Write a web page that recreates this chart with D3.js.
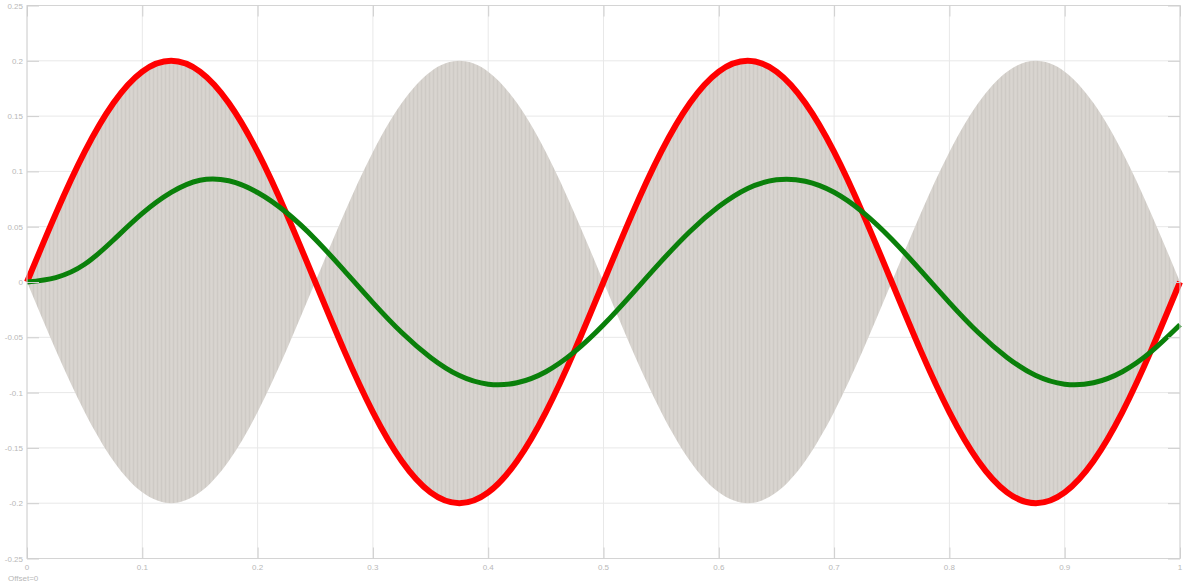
<!DOCTYPE html>
<html>
<head>
<meta charset="utf-8">
<script src="https://cdn.jsdelivr.net/npm/d3@7"></script>
<style>
  html, body { margin: 0; padding: 0; background: #ffffff; }
  svg { display: block; }
  text { font-family: "Liberation Sans", Arial, sans-serif; }
</style>
</head>
<body>
<svg id="chart" width="1183" height="583"></svg>
<script>
// Sample positions along the time axis
const xs = [0, 0.025, 0.05, 0.075, 0.1, 0.125, 0.15, 0.175, 0.2, 0.225,
            0.25, 0.275, 0.3, 0.325, 0.35, 0.375, 0.4, 0.425, 0.45, 0.475,
            0.5, 0.525, 0.55, 0.575, 0.6, 0.625, 0.65, 0.675, 0.7, 0.725,
            0.75, 0.775, 0.8, 0.825, 0.85, 0.875, 0.9, 0.925, 0.95, 0.975, 1];

// Input signal (red)
const inputSignal = [0, 0.0618, 0.1176, 0.1618, 0.1902, 0.2, 0.1902, 0.1618, 0.1176, 0.0618,
                     0, -0.0618, -0.1176, -0.1618, -0.1902, -0.2, -0.1902, -0.1618, -0.1176, -0.0618,
                     0, 0.0618, 0.1176, 0.1618, 0.1902, 0.2, 0.1902, 0.1618, 0.1176, 0.0618,
                     0, -0.0618, -0.1176, -0.1618, -0.1902, -0.2, -0.1902, -0.1618, -0.1176, -0.0618, 0];

// Filtered output (green)
const filteredSignal = [0, 0.004, 0.016, 0.038, 0.062, 0.081, 0.092, 0.0915, 0.0809, 0.0628,
                        0.0387, 0.0105, -0.0186, -0.0457, -0.0682, -0.0846, -0.0924, -0.0911, -0.0811, -0.0630,
                        -0.0387, -0.0105, 0.0186, 0.0457, 0.0682, 0.0846, 0.0924, 0.0911, 0.0811, 0.0630,
                        0.0387, 0.0105, -0.0186, -0.0457, -0.0682, -0.0846, -0.0924, -0.0911, -0.0811, -0.0630, -0.0387];

// Envelope of the modulated carrier (grey band)
const carrierEnvelope = [0, 0.0618, 0.1176, 0.1618, 0.1902, 0.2, 0.1902, 0.1618, 0.1176, 0.0618,
                         0, 0.0618, 0.1176, 0.1618, 0.1902, 0.2, 0.1902, 0.1618, 0.1176, 0.0618,
                         0, 0.0618, 0.1176, 0.1618, 0.1902, 0.2, 0.1902, 0.1618, 0.1176, 0.0618,
                         0, 0.0618, 0.1176, 0.1618, 0.1902, 0.2, 0.1902, 0.1618, 0.1176, 0.0618, 0];

const xTicks = [0, 0.1, 0.2, 0.3, 0.4, 0.5, 0.6, 0.7, 0.8, 0.9, 1];
const xTickLabels = ["0", "0.1", "0.2", "0.3", "0.4", "0.5", "0.6", "0.7", "0.8", "0.9", "1"];
const yTicks = [-0.25, -0.2, -0.15, -0.1, -0.05, 0, 0.05, 0.1, 0.15, 0.2, 0.25];
const yTickLabels = ["-0.25", "-0.2", "-0.15", "-0.1", "-0.05", "0", "0.05", "0.1", "0.15", "0.2", "0.25"];
const offsetLabel = "Offset=0";

const svg = d3.select("#chart");
const plotLeft = 27, plotRight = 1180, plotTop = 5.5, plotBottom = 558.5;

const x = d3.scaleLinear().domain([0, 1]).range([plotLeft, plotRight]);
const y = d3.scaleLinear().domain([-0.25, 0.25]).range([plotBottom, plotTop]);

// Fine vertical striping for the dense carrier band
const defs = svg.append("defs");
const pat = defs.append("pattern")
  .attr("id", "carrier")
  .attr("patternUnits", "userSpaceOnUse")
  .attr("width", 4).attr("height", 10);
pat.append("rect").attr("width", 4).attr("height", 10).attr("fill", "#d6d2cd");
pat.append("rect").attr("x", 1).attr("width", 1).attr("height", 10).attr("fill", "#cecac5");
pat.append("rect").attr("x", 3).attr("width", 0.6).attr("height", 10).attr("fill", "#dbd7d2");

// Grid
const grid = svg.append("g");
grid.selectAll("line.vx").data(xTicks).join("line")
  .attr("x1", d => x(d)).attr("x2", d => x(d))
  .attr("y1", plotTop).attr("y2", plotBottom)
  .attr("stroke", "#e8e8e8").attr("stroke-width", 1);
grid.selectAll("line.hy").data(yTicks).join("line")
  .attr("x1", plotLeft).attr("x2", plotRight)
  .attr("y1", d => y(d)).attr("y2", d => y(d))
  .attr("stroke", "#e8e8e8").attr("stroke-width", 1);

// Carrier band, drawn lobe by lobe so the envelope keeps its sharp zeros
const pts = xs.map((t, i) => ({ t, e: carrierEnvelope[i] }));
const lobes = [];
let cur = [];
pts.forEach((p) => {
  cur.push(p);
  if (p.e === 0 && cur.length > 1) { lobes.push(cur); cur = [p]; }
});
if (cur.length > 1) lobes.push(cur);

const upper = d3.line().x(d => x(d.t)).y(d => y(d.e)).curve(d3.curveNatural);
const lower = d3.line().x(d => x(d.t)).y(d => y(-d.e)).curve(d3.curveNatural);

svg.append("g").selectAll("path").data(lobes).join("path")
  .attr("d", d => upper(d) + "L" + lower(d.slice().reverse()).slice(1) + "Z")
  .attr("fill", "url(#carrier)");

// Signals
const line = (vals) => d3.line()
  .x((d, i) => x(xs[i]))
  .y(d => y(d))
  .curve(d3.curveNatural)(vals);

svg.append("path")
  .attr("d", line(inputSignal))
  .attr("fill", "none")
  .attr("stroke", "#ff0000")
  .attr("stroke-width", 6)
  .attr("stroke-linejoin", "round");

svg.append("path")
  .attr("d", line(filteredSignal))
  .attr("fill", "none")
  .attr("stroke", "#0a800a")
  .attr("stroke-width", 5)
  .attr("stroke-linejoin", "round");

// Frame with inward ticks
svg.append("rect")
  .attr("x", plotLeft).attr("y", plotTop)
  .attr("width", plotRight - plotLeft).attr("height", plotBottom - plotTop)
  .attr("fill", "none").attr("stroke", "#d4d4d4").attr("stroke-width", 1);

const xAxisB = d3.axisBottom(x).tickValues(xTicks).tickSize(-11).tickFormat("");
const xAxisT = d3.axisTop(x).tickValues(xTicks).tickSize(-11).tickFormat("");
const yAxisL = d3.axisLeft(y).tickValues(yTicks).tickSize(-12).tickFormat("");
const yAxisR = d3.axisRight(y).tickValues(yTicks).tickSize(-12).tickFormat("");

function styleAxis(g) {
  g.select(".domain").remove();
  g.selectAll(".tick line").attr("stroke", "#cfcfcf");
}
svg.append("g").attr("transform", `translate(0,${plotBottom})`).call(xAxisB).call(styleAxis);
svg.append("g").attr("transform", `translate(0,${plotTop})`).call(xAxisT).call(styleAxis);
svg.append("g").attr("transform", `translate(${plotLeft},0)`).call(yAxisL).call(styleAxis);
svg.append("g").attr("transform", `translate(${plotRight},0)`).call(yAxisR).call(styleAxis);

// Tick labels
svg.append("g").selectAll("text").data(xTicks).join("text")
  .attr("x", d => x(d)).attr("y", 570)
  .attr("text-anchor", "middle")
  .attr("font-size", 8).attr("fill", "#b8b8b8")
  .text((d, i) => xTickLabels[i]);

svg.append("g").selectAll("text").data(yTicks).join("text")
  .attr("x", 23).attr("y", d => y(d) + 3)
  .attr("text-anchor", "end")
  .attr("font-size", 8).attr("fill", "#b8b8b8")
  .text((d, i) => yTickLabels[i]);

svg.append("text")
  .attr("x", 8).attr("y", 581)
  .attr("font-size", 8).attr("fill", "#b8b8b8")
  .text(offsetLabel);
</script>
</body>
</html>
